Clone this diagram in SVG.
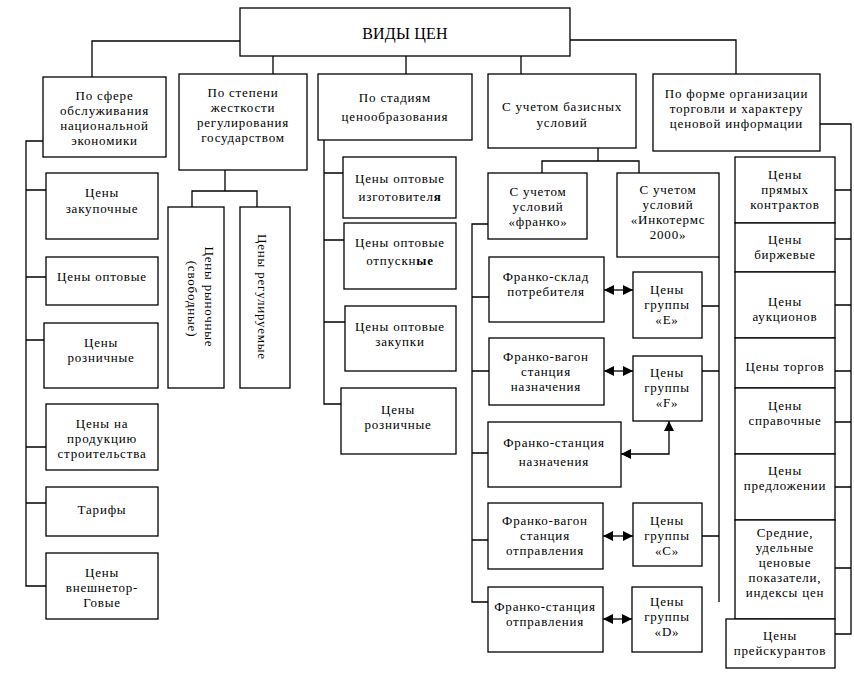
<svg xmlns="http://www.w3.org/2000/svg" width="854" height="674" viewBox="0 0 854 674">
<style>
.b{fill:#fff;stroke:#000;stroke-width:1.3}
.c{fill:none;stroke:#000;stroke-width:1.3}
.t{font-family:'Liberation Serif','Times New Roman','Liberation Sans',serif;font-size:13px;text-anchor:middle;letter-spacing:0.8px;fill:#000}
.h{font-size:16px;letter-spacing:0.2px}
.bd{font-weight:bold}
</style>
<defs>
<marker id="ah" markerUnits="userSpaceOnUse" markerWidth="11" markerHeight="10" refX="10" refY="5" orient="auto-start-reverse" viewBox="0 0 11 10">
<path d="M0,0 L10,5 L0,10 z" fill="#000"/>
</marker>
</defs>
<rect width="854" height="674" fill="#fff"/>
<g id="connectors">
<path class="c" d="M240,41 H92 V77"/>
<path class="c" d="M273,56 V74 M406,56 V74 M521,56 V74"/>
<path class="c" d="M570,40 H736 V74"/>
<path class="c" d="M43,141 H26 V586 H46 M26,190 H46 M26,277 H46 M26,340 H44 M26,447 H46 M26,503 H46"/>
<path class="c" d="M225,170 V191 M192,207 V191 H257 V207"/>
<path class="c" d="M324,140 V404 H341 M324,173 H343 M324,240 H344 M324,322 H345"/>
<path class="c" d="M598,148 V161 M542,173 V161 H639 V173"/>
<path class="c" d="M488,224 H472 V602 H488 M472,297 H489 M472,371 H489 M472,453 H488 M472,540 H488"/>
<path class="c" d="M719,257 V602 M702,306 H719 M702,371 H719 M702,536 H719"/>
<path class="c" d="M820,124 H851 V634 H835 M835,190 H851 M835,239 H851 M835,305 H851 M835,371 H851 M835,422 H851 M835,487 H851 M835,568 H851"/>
<path class="c" d="M604,290 H633" marker-start="url(#ah)" marker-end="url(#ah)"/>
<path class="c" d="M604,371 H633" marker-start="url(#ah)" marker-end="url(#ah)"/>
<path class="c" d="M603,536 H633" marker-start="url(#ah)" marker-end="url(#ah)"/>
<path class="c" d="M603,619 H632" marker-start="url(#ah)" marker-end="url(#ah)"/>
<path class="c" d="M669,421 V454 H621" marker-start="url(#ah)" marker-end="url(#ah)"/>
</g>
<g id="root"><rect class="b" x="240" y="8" width="330" height="48"/><text class="t h" x="405" y="39">ВИДЫ ЦЕН</text></g>
<g id="n1"><rect class="b" x="43" y="77" width="123" height="80"/><text class="t" x="104.5" y="100">По сфере</text><text class="t" x="104.5" y="115">обслуживания</text><text class="t" x="104.5" y="130">национальной</text><text class="t" x="104.5" y="145">экономики</text></g>
<g id="n2"><rect class="b" x="179" y="74" width="128" height="96"/><text class="t" x="243" y="97">По степени</text><text class="t" x="243" y="112">жесткости</text><text class="t" x="243" y="127">регулирования</text><text class="t" x="243" y="142">государством</text></g>
<g id="n3"><rect class="b" x="318" y="74" width="154" height="66"/><text class="t" x="395" y="102">По стадиям</text><text class="t" x="395" y="121">ценообразования</text></g>
<g id="n4"><rect class="b" x="488" y="74" width="148" height="74"/><text class="t" x="562" y="111">С учетом базисных</text><text class="t" x="562" y="127">условий</text></g>
<g id="n5"><rect class="b" x="653" y="74" width="167" height="77"/><text class="t" x="736.5" y="98">По форме организации</text><text class="t" x="736.5" y="113">торговли и характеру</text><text class="t" x="736.5" y="128">ценовой информации</text></g>
<g id="l1"><rect class="b" x="46" y="173" width="112" height="66"/><text class="t" x="102" y="197">Цены</text><text class="t" x="102" y="213">закупочные</text></g>
<g id="l2"><rect class="b" x="46" y="257" width="112" height="48"/><text class="t" x="102" y="281">Цены оптовые</text></g>
<g id="l3"><rect class="b" x="44" y="323" width="114" height="65"/><text class="t" x="101" y="347">Цены</text><text class="t" x="101" y="362">розничные</text></g>
<g id="l4"><rect class="b" x="46" y="404" width="112" height="66"/><text class="t" x="102" y="428">Цены на</text><text class="t" x="102" y="443">продукцию</text><text class="t" x="102" y="458">строительства</text></g>
<g id="l5"><rect class="b" x="46" y="487" width="112" height="49"/><text class="t" x="102" y="514">Тарифы</text></g>
<g id="l6"><rect class="b" x="46" y="553" width="112" height="66"/><text class="t" x="102" y="577">Цены</text><text class="t" x="102" y="592">внешнетор-</text><text class="t" x="102" y="607">Говые</text></g>
<g id="r1"><rect class="b" x="168" y="207" width="56" height="181"/><text class="t" transform="translate(205,297) rotate(90)">Цены рыночные</text><text class="t" transform="translate(188,299) rotate(90)">(свободные)</text></g>
<g id="r2"><rect class="b" x="240" y="207" width="50" height="181"/><text class="t" transform="translate(258,297) rotate(90)">Цены регулируемые</text></g>
<g id="s1"><rect class="b" x="343" y="157" width="113" height="61"/><text class="t" x="400" y="183">Цены оптовые</text><text class="t" x="400" y="201">изготовител<tspan class="bd">я</tspan></text></g>
<g id="s2"><rect class="b" x="344" y="223" width="112" height="66"/><text class="t" x="400" y="247">Цены оптовые</text><text class="t" x="400" y="265">отпускн<tspan class="bd">ые</tspan></text></g>
<g id="s3"><rect class="b" x="345" y="306" width="111" height="65"/><text class="t" x="400" y="331">Цены оптовые</text><text class="t" x="400" y="346">закупки</text></g>
<g id="s4"><rect class="b" x="341" y="388" width="115" height="66"/><text class="t" x="398" y="414">Цены</text><text class="t" x="398" y="429">розничные</text></g>
<g id="f0"><rect class="b" x="488" y="173" width="99" height="66"/><text class="t" x="538" y="196">С учетом</text><text class="t" x="538" y="211">условий</text><text class="t" x="538" y="226">«франко»</text></g>
<g id="i0"><rect class="b" x="617" y="173" width="102" height="84"/><text class="t" x="668" y="194">С учетом</text><text class="t" x="668" y="209">условий</text><text class="t" x="668" y="224">«Инкотермс</text><text class="t" x="668" y="239">2000»</text></g>
<g id="f1"><rect class="b" x="489" y="257" width="115" height="65"/><text class="t" x="546" y="281">Франко-склад</text><text class="t" x="546" y="296">потребителя</text></g>
<g id="gE"><rect class="b" x="633" y="272" width="69" height="66"/><text class="t" x="667" y="294">Цены</text><text class="t" x="667" y="309">группы</text><text class="t" x="667" y="324">«E»</text></g>
<g id="f2"><rect class="b" x="489" y="338" width="115" height="67"/><text class="t" x="546" y="361">Франко-вагон</text><text class="t" x="546" y="376">станция</text><text class="t" x="546" y="391">назначения</text></g>
<g id="gF"><rect class="b" x="633" y="356" width="69" height="65"/><text class="t" x="667" y="377">Цены</text><text class="t" x="667" y="392">группы</text><text class="t" x="667" y="407">«F»</text></g>
<g id="f3"><rect class="b" x="488" y="422" width="133" height="65"/><text class="t" x="554" y="447">Франко-станция</text><text class="t" x="554" y="466">назначения</text></g>
<g id="f4"><rect class="b" x="488" y="503" width="115" height="66"/><text class="t" x="545" y="525">Франко-вагон</text><text class="t" x="545" y="540">станция</text><text class="t" x="545" y="555">отправления</text></g>
<g id="gC"><rect class="b" x="633" y="503" width="69" height="63"/><text class="t" x="667" y="525">Цены</text><text class="t" x="667" y="540">группы</text><text class="t" x="667" y="555">«C»</text></g>
<g id="f5"><rect class="b" x="488" y="587" width="115" height="65"/><text class="t" x="545" y="611">Франко-станция</text><text class="t" x="545" y="626">отправления</text></g>
<g id="gD"><rect class="b" x="632" y="587" width="70" height="65"/><text class="t" x="667" y="606">Цены</text><text class="t" x="667" y="621">группы</text><text class="t" x="667" y="636">«D»</text></g>
<g id="p1"><rect class="b" x="735" y="157" width="100" height="66"/><text class="t" x="785" y="179">Цены</text><text class="t" x="785" y="194">прямых</text><text class="t" x="785" y="209">контрактов</text></g>
<g id="p2"><rect class="b" x="735" y="223" width="100" height="49"/><text class="t" x="785" y="244">Цены</text><text class="t" x="785" y="259">биржевые</text></g>
<g id="p3"><rect class="b" x="735" y="272" width="100" height="66"/><text class="t" x="785" y="306">Цены</text><text class="t" x="785" y="321">аукционов</text></g>
<g id="p4"><rect class="b" x="735" y="338" width="100" height="50"/><text class="t" x="785" y="371">Цены торгов</text></g>
<g id="p5"><rect class="b" x="735" y="388" width="100" height="66"/><text class="t" x="785" y="410">Цены</text><text class="t" x="785" y="425">справочные</text></g>
<g id="p6"><rect class="b" x="735" y="454" width="100" height="66"/><text class="t" x="785" y="475">Цены</text><text class="t" x="785" y="490">предложении</text></g>
<g id="p7"><rect class="b" x="735" y="520" width="100" height="99"/><text class="t" x="785" y="537">Средние,</text><text class="t" x="785" y="552">удельные</text><text class="t" x="785" y="567">ценовые</text><text class="t" x="785" y="582">показатели,</text><text class="t" x="785" y="597">индексы цен</text></g>
<g id="p8"><rect class="b" x="726" y="619" width="109" height="49"/><text class="t" x="780" y="640">Цены</text><text class="t" x="780" y="655">прейскурантов</text></g>
</svg>
